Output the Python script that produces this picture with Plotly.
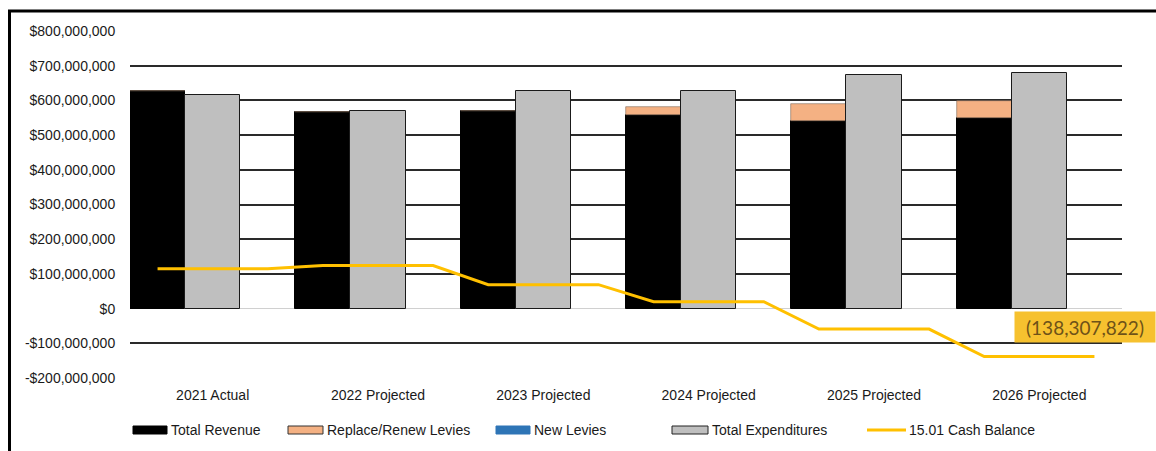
import plotly.graph_objects as go

categories = ["2021 Actual", "2022 Projected", "2023 Projected", "2024 Projected", "2025 Projected", "2026 Projected"]
total_revenue = [626_000_000, 568_000_000, 570_000_000, 558_000_000, 541_000_000, 549_000_000]
replace_renew_levies = [0, 0, 0, 22_000_000, 48_000_000, 48_000_000]
new_levies = [0, 0, 0, 0, 0, 0]
total_expenditures = [617_000_000, 569_000_000, 626_000_000, 626_000_000, 674_000_000, 678_000_000]
cash_balance = [115_000_000, 124_000_000, 69_000_000, 20_000_000, -59_000_000, -138_307_822]

y_tick_values = [-200_000_000, -100_000_000, 0, 100_000_000, 200_000_000, 300_000_000,
                 400_000_000, 500_000_000, 600_000_000, 700_000_000, 800_000_000]
y_tick_labels = ["-$200,000,000", "-$100,000,000", "$0", "$100,000,000", "$200,000,000", "$300,000,000",
                 "$400,000,000", "$500,000,000", "$600,000,000", "$700,000,000", "$800,000,000"]

W, H = 1156, 451
L, R, T, B = 130, 1122, 31, 378
FONT = "Liberation Sans, Arial, sans-serif"


def px(x):
    return (x - L) / (R - L)


def py(y):
    return (B - y) / (B - T)


idx = list(range(len(categories)))
slot = 1 / 3

fig = go.Figure()

fig.add_trace(go.Bar(
    x=idx, y=total_revenue, base=[0] * len(idx), width=slot, offset=-0.5,
    marker=dict(color="#000000", line=dict(color="#000000", width=1)),
    name="Total Revenue", showlegend=False))

base_rr = total_revenue
fig.add_trace(go.Bar(
    x=idx, y=replace_renew_levies, base=base_rr, width=slot, offset=-0.5,
    marker=dict(color="#F4B183", line=dict(color="#7f6a5a", width=0.6)),
    name="Replace/Renew Levies", showlegend=False))

base_nl = [a + b for a, b in zip(total_revenue, replace_renew_levies)]
fig.add_trace(go.Bar(
    x=idx, y=new_levies, base=base_nl, width=slot, offset=-0.5,
    marker=dict(color="#2E75B6", line=dict(width=0)),
    name="New Levies", showlegend=False))

fig.add_trace(go.Bar(
    x=idx, y=total_expenditures, base=[0] * len(idx), width=slot, offset=-0.5 + slot,
    marker=dict(color="#BFBFBF", line=dict(color="#1a1a1a", width=1)),
    name="Total Expenditures", showlegend=False))

line_x = [i + d for i in idx for d in (-slot, 0, slot)]
line_y = [v for v in cash_balance for _ in range(3)]
fig.add_trace(go.Scatter(
    x=line_x, y=line_y, mode="lines",
    line=dict(color="#FFC000", width=3, shape="linear"),
    name="15.01 Cash Balance", showlegend=False))

# data label on last cash balance point
last = cash_balance[-1]
label = f"({abs(last):,.0f})" if last < 0 else f"{last:,.0f}"
fig.add_annotation(
    x=idx[-1] + slot, y=last, xref="x", yref="y",
    text=label, showarrow=False, xshift=-9, yshift=30,
    width=140, height=30, bgcolor="#F6C12F", borderpad=0,
    font=dict(family="Lato, Liberation Sans, sans-serif", size=19, color="#6E5218"),
    align="center")

shapes = []
annotations = []
# outer border
shapes.append(dict(type="rect", xref="paper", yref="paper",
                   x0=px(9.5), x1=px(1175), y0=py(470), y1=py(11),
                   line=dict(color="#000000", width=3), fillcolor="rgba(0,0,0,0)"))

# custom legend
ly = 430
legend_items = [
    ("rect", 133, 167, "#000000", "#000000", "Total Revenue", 169),
    ("rect", 288, 323, "#F4B183", "#333333", "Replace/Renew Levies", 325),
    ("rect", 496, 530, "#2E75B6", "#2E75B6", "New Levies", 532),
    ("rect", 672, 708, "#BFBFBF", "#222222", "Total Expenditures", 710),
    ("line", 867, 906, "#FFC000", "#FFC000", "15.01 Cash Balance", 907),
]
for kind, x0, x1, fill, edge, text, tx in legend_items:
    if kind == "rect":
        shapes.append(dict(type="rect", xref="paper", yref="paper",
                           x0=px(x0), x1=px(x1), y0=py(ly + 4), y1=py(ly - 4),
                           fillcolor=fill, line=dict(color=edge, width=1)))
    else:
        shapes.append(dict(type="line", xref="paper", yref="paper",
                           x0=px(x0), x1=px(x1), y0=py(ly), y1=py(ly),
                           line=dict(color=fill, width=3)))
    annotations.append(dict(xref="paper", yref="paper", x=px(tx), y=py(ly),
                            xanchor="left", yanchor="middle", text=text, showarrow=False,
                            font=dict(family=FONT, size=14, color="#1a1a1a")))

for a in annotations:
    fig.add_annotation(**a)

fig.update_layout(
    width=W, height=H,
    margin=dict(l=L, r=W - R, t=T, b=H - B),
    paper_bgcolor="#ffffff", plot_bgcolor="#ffffff",
    barmode="overlay", bargap=0,
    shapes=shapes,
    font=dict(family=FONT, size=14, color="#1a1a1a"),
    showlegend=False,
)

fig.update_xaxes(
    range=[-0.5, len(categories) - 0.5],
    tickmode="array", tickvals=idx, ticktext=categories,
    showgrid=False, zeroline=False, showline=False,
    ticks="outside", ticklen=4, tickcolor="rgba(0,0,0,0)",
    tickfont=dict(family=FONT, size=14, color="#1a1a1a"),
)
fig.update_yaxes(
    range=[-200_000_000, 800_000_000],
    tickmode="array", tickvals=y_tick_values, ticktext=y_tick_labels,
    showgrid=True, gridcolor="#2a2a2a", gridwidth=1.5,
    zeroline=True, zerolinecolor="#d0d0d0", zerolinewidth=1,
    showline=False,
    ticks="outside", ticklen=11, tickcolor="rgba(0,0,0,0)",
    tickfont=dict(family=FONT, size=14, color="#1a1a1a"),
)

fig.write_html("out.html")
